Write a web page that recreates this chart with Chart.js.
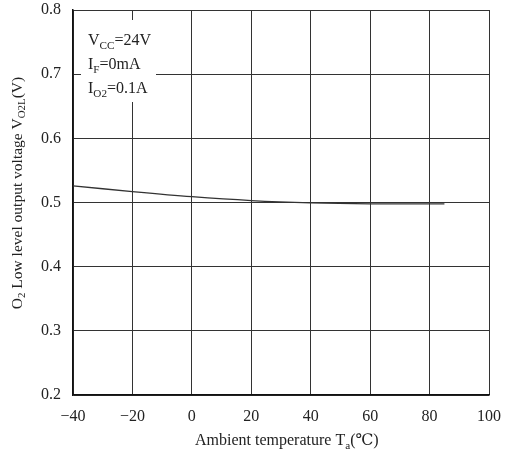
<!DOCTYPE html>
<html>
<head>
<meta charset="utf-8">
<script src="https://cdn.jsdelivr.net/npm/chart.js@4"></script>
<style>
  html, body { margin: 0; padding: 0; background: #fff; }
  #wrap { width: 513px; height: 454px; position: relative; }
</style>
</head>
<body>
<div id="wrap"><canvas id="chart"></canvas></div>
<script>
// Ambient temperature (°C) and low level output voltage (V)
const temps = [-40, -20, 0, 20, 40, 60, 85];
const voltages = [0.526, 0.517, 0.509, 0.503, 0.4995, 0.498, 0.498];

const xTicks = [-40, -20, 0, 20, 40, 60, 80, 100];
const yTicks = [0.2, 0.3, 0.4, 0.5, 0.6, 0.7, 0.8];

const conditions = [
  [['V', 0], ['CC', 1], ['=24V', 0]],
  [['I', 0], ['F', 1], ['=0mA', 0]],
  [['I', 0], ['O2', 1], ['=0.1A', 0]]
];

const FONT = '"Liberation Serif", "DejaVu Serif", serif';
const INK = '#222';

// draw a run of text pieces, subscripts smaller and lower
function drawRich(ctx, parts, x, y, size) {
  let cx = x;
  parts.forEach(([txt, sub]) => {
    ctx.font = (sub ? size * 0.7 : size) + 'px ' + FONT;
    ctx.fillText(txt, cx, sub ? y + size * 0.22 : y);
    cx += ctx.measureText(txt).width;
  });
  return cx - x;
}

function richWidth(ctx, parts, size) {
  let w = 0;
  parts.forEach(([txt, sub]) => {
    ctx.font = (sub ? size * 0.7 : size) + 'px ' + FONT;
    w += ctx.measureText(txt).width;
  });
  return w;
}

const annotations = {
  id: 'annotations',
  afterDraw(chart) {
    const ctx = chart.ctx;
    const area = chart.chartArea;
    ctx.save();
    // white box behind the test conditions
    ctx.fillStyle = '#fff';
    ctx.fillRect(area.left + 8, area.top + 10, 75, 82);
    ctx.fillStyle = INK;
    ctx.textBaseline = 'alphabetic';
    ctx.textAlign = 'left';
    conditions.forEach((parts, i) => {
      drawRich(ctx, parts, area.left + 15, area.top + 35 + i * 24, 16);
    });

    // x axis title
    const xt = [['Ambient temperature T', 0], ['a', 1], ['(℃)', 0]];
    drawRich(ctx, xt, 195, 445, 16);

    // y axis title, rotated
    const yt = [['O', 0], ['2', 1], [' Low level output voltage V', 0], ['O2L', 1], ['(V)', 0]];
    const yw = richWidth(ctx, yt, 15.5);
    ctx.translate(22, 193);
    ctx.rotate(-Math.PI / 2);
    drawRich(ctx, yt, -yw / 2, 0, 15.5);
    ctx.restore();
  }
};

new Chart(document.getElementById('chart'), {
  type: 'line',
  data: {
    datasets: [{
      data: temps.map((t, i) => ({ x: t, y: voltages[i] })),
      borderColor: '#333',
      borderWidth: 1.3,
      pointRadius: 0,
      tension: 0.35,
      fill: false
    }]
  },
  options: {
    responsive: true,
    maintainAspectRatio: false,
    animation: false,
    layout: { padding: { left: 0, right: 23, top: 10, bottom: 0 } },
    plugins: {
      legend: { display: false },
      tooltip: { enabled: false }
    },
    scales: {
      x: {
        type: 'linear',
        min: -40,
        max: 100,
        afterBuildTicks: (scale) => { scale.ticks = xTicks.map(v => ({ value: v })); },
        afterFit: (scale) => { scale.height = 59; },
        ticks: {
          color: INK,
          padding: 12,
          maxRotation: 0,
          font: { family: FONT, size: 16 },
          callback: (v) => String(v).replace('-', '−')
        },
        grid: { color: '#333', lineWidth: 1, drawTicks: false },
        border: { color: '#111', width: 1.5 }
      },
      y: {
        min: 0.2,
        max: 0.8,
        afterBuildTicks: (scale) => { scale.ticks = yTicks.map(v => ({ value: v })); },
        afterFit: (scale) => {
          scale.width = 73;
          scale.paddingTop = 0;
          scale.paddingBottom = 0;
        },
        ticks: {
          color: INK,
          padding: 12,
          font: { family: FONT, size: 16 },
          callback: (v) => v.toFixed(1)
        },
        grid: { color: '#333', lineWidth: 1, drawTicks: false },
        border: { color: '#111', width: 1.5 }
      }
    }
  },
  plugins: [annotations]
});
</script>
</body>
</html>
